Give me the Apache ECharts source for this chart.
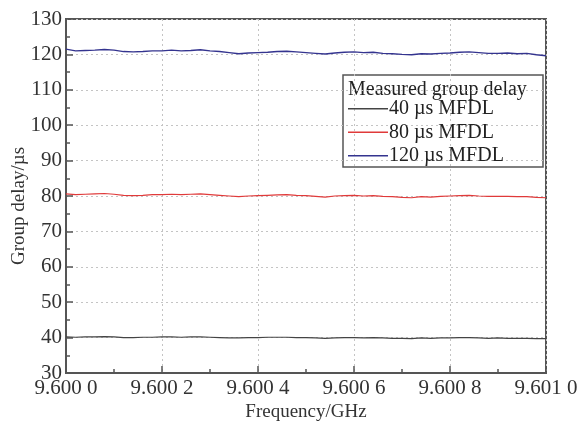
<!DOCTYPE html>
<html><head><meta charset="utf-8">
<script src="https://cdn.jsdelivr.net/npm/echarts@6/dist/echarts.min.js"></script>
<style>html,body{margin:0;padding:0;background:#fff}#c{width:577px;height:421px}</style>
</head><body><div id="c"></div>
<script>
// x positions in units of 0.0001 GHz above 9.6000 GHz
const xStep = 0.2;
const xTickLabels = ["9.600 0","9.600 2","9.600 4","9.600 6","9.600 8","9.601 0"];
const seriesNames = ["40 \u00b5s MFDL","80 \u00b5s MFDL","120 \u00b5s MFDL"];
const delay40 = [40.2,40.1,40.2,40.2,40.3,40.2,40.0,40.0,40.1,40.1,40.2,40.2,40.1,40.2,40.2,40.1,40.0,39.9,39.9,40.0,40.0,40.1,40.1,40.1,40.0,40.0,39.9,39.8,39.9,40.0,40.0,39.9,40.0,39.9,39.8,39.8,39.7,39.9,39.8,39.9,39.9,40.0,40.0,39.9,39.8,39.9,39.8,39.8,39.8,39.7,39.7];
const delay80 = [80.6,80.4,80.5,80.6,80.7,80.5,80.2,80.1,80.2,80.4,80.4,80.5,80.4,80.5,80.6,80.4,80.2,80.0,79.8,80.0,80.1,80.2,80.3,80.4,80.2,80.1,79.9,79.7,80.0,80.1,80.2,80.0,80.1,79.9,79.8,79.6,79.5,79.8,79.7,79.9,80.0,80.1,80.2,80.0,79.9,79.9,79.9,79.8,79.8,79.6,79.5];
const delay120 = [121.5,121.0,121.1,121.2,121.4,121.2,120.8,120.7,120.8,121.0,121.0,121.2,121.0,121.1,121.3,121.0,120.8,120.5,120.2,120.4,120.5,120.6,120.8,120.9,120.7,120.5,120.3,120.1,120.4,120.6,120.7,120.5,120.6,120.3,120.2,120.0,119.9,120.2,120.1,120.3,120.4,120.6,120.7,120.5,120.3,120.3,120.4,120.2,120.3,119.9,119.6];
const colors = ["#444444","#e03a3a","#34348f"];

function toPairs(arr){ return arr.map((v,i)=>[+(i*xStep).toFixed(3), v]); }

const font = "'Liberation Serif','DejaVu Serif',serif";
const chart = echarts.init(document.getElementById('c'), null, {renderer:'canvas'});
chart.setOption({
  animation:false,
  backgroundColor:'#fff',
  grid:{left:66,right:31,top:19,bottom:48,containLabel:false,outerBoundsMode:'none',show:true,borderColor:'#555',borderWidth:2,backgroundColor:'transparent'},
  xAxis:{type:'value',min:0,max:10,interval:2,
    name:'Frequency/GHz',nameLocation:'middle',nameGap:30,nameMoveOverlap:false,
    nameTextStyle:{fontFamily:font,fontSize:19,color:'#333'},
    axisLine:{show:true,lineStyle:{color:'#555',width:2}},
    axisTick:{show:true,inside:true,length:7,lineStyle:{color:'#555',width:1.5}},
    minorTick:{show:true,splitNumber:2,length:4,lineStyle:{color:'#555',width:1.5}},
    axisLabel:{fontFamily:font,fontSize:21,color:'#333',margin:5,
      formatter:v=>xTickLabels[Math.round(v/2)]},
    splitLine:{show:true,lineStyle:{color:'#c4c4c4',type:[2,3],width:1}}
  },
  yAxis:{type:'value',min:30,max:130,interval:10,
    name:'Group delay/\u00b5s',nameLocation:'middle',nameGap:37,nameMoveOverlap:false,
    nameTextStyle:{fontFamily:font,fontSize:19,color:'#333',padding:[0,0,0,-20]},
    axisLine:{show:true,lineStyle:{color:'#555',width:2}},
    axisTick:{show:true,inside:true,length:7,lineStyle:{color:'#555',width:1.5}},
    minorTick:{show:true,splitNumber:2,length:4,lineStyle:{color:'#555',width:1.5}},
    axisLabel:{fontFamily:font,fontSize:21,color:'#333',margin:4},
    splitLine:{show:true,lineStyle:{color:'#c4c4c4',type:[2,3],width:1}}
  },
  legend:{orient:'vertical',left:348,top:97,padding:0,itemGap:0,itemWidth:40,itemHeight:1.5,icon:'rect',
    textStyle:{fontFamily:font,fontSize:20,color:'#222',lineHeight:23.5,padding:[0,0,0,-4]},
    data:seriesNames},
  graphic:[
    {type:'rect',shape:{x:343,y:75,width:200,height:92},style:{fill:'#fff',stroke:'#555',lineWidth:1.5},z:-1},
    {type:'text',left:348,top:80,style:{text:'Measured group delay',font:"20px "+font,fill:'#222'}}
  ],
  series:[
    {name:seriesNames[0],type:'line',data:toPairs(delay40),symbol:'none',lineStyle:{color:colors[0],width:1.2},itemStyle:{color:colors[0]}},
    {name:seriesNames[1],type:'line',data:toPairs(delay80),symbol:'none',lineStyle:{color:colors[1],width:1.2},itemStyle:{color:colors[1]}},
    {name:seriesNames[2],type:'line',data:toPairs(delay120),symbol:'none',lineStyle:{color:colors[2],width:1.4},itemStyle:{color:colors[2]}}
  ]
});
</script></body></html>
